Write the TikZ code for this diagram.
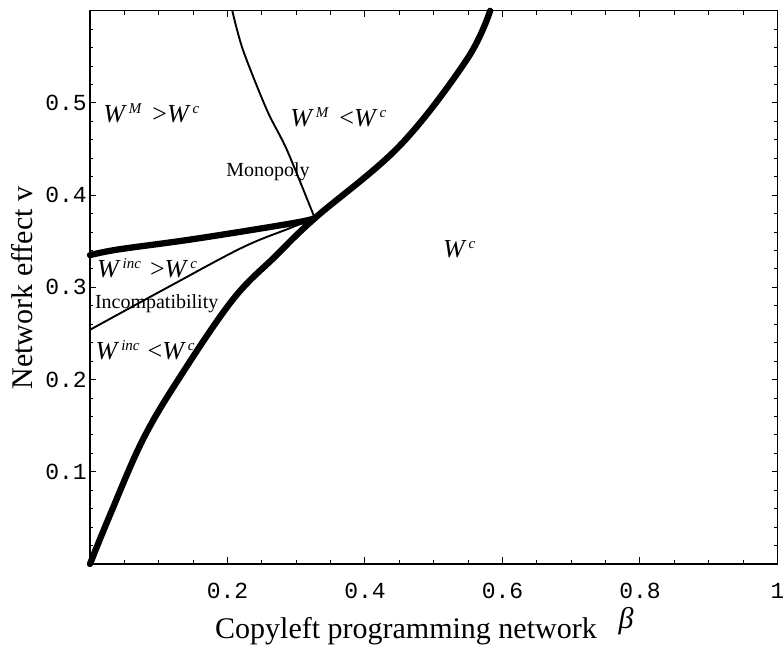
\documentclass[tikz,border=0pt]{standalone}
\usepackage{fontspec}
\setmainfont{Liberation Serif}
\setmonofont{Liberation Mono}
\newcommand{\Wsup}[1]{\textit{W}\kern2pt\raisebox{9pt}{\fontsize{15}{15}\selectfont\itshape #1}}
\begin{document}
\begin{tikzpicture}[x=687.5pt,y=922pt,
    boldcurve/.style={line width=6.3pt,line cap=round,line join=round},
    thincurve/.style={line width=1.9pt,line join=round},
    tickmark/.style={line width=1pt},
    ticklab/.style={font=\fontsize{23}{23}\selectfont\ttfamily,inner sep=0pt},
    regionlab/.style={font=\fontsize{26}{26}\selectfont,inner sep=0pt},
    namelab/.style={font=\fontsize{20}{20}\selectfont,inner sep=0pt},
    axislab/.style={font=\fontsize{30}{30}\selectfont,inner sep=0pt}]
	\useasboundingbox (-0.1309,-0.0911) rectangle (1.0080,0.6117);
	\draw[line width=1.4pt] (0,0) rectangle (1,0.6);
	\foreach \i in {1,...,19}
		\draw[tickmark] (\i/20,0) -- ++(0pt,4pt) (\i/20,0.6) -- ++(0pt,-4pt);
	\foreach \j in {1,...,29}
		\draw[tickmark] (0,\j/50) -- ++(3.5pt,0pt) (1,\j/50) -- ++(-3.5pt,0pt);
	\foreach \i in {2,4,6,8}
	  {\draw[tickmark] (\i/10,0) -- ++(0pt,6.5pt) (\i/10,0.6) -- ++(0pt,-6.5pt);
	   \node [ticklab,below=19pt] (x\i) at (\i/10,0) {0.\i};}
	\node [ticklab,below=19pt] (x10) at (1,0) {1};
	\foreach \j in {1,...,5}
	  {\draw[tickmark] (0,\j/10) -- ++(6pt,0pt) (1,\j/10) -- ++(-6pt,0pt);
	   \node [ticklab,left=3pt] (y\j) at (0,\j/10) {0.\j};}

	\coordinate (tp) at (0.327,0.375);
	\draw[boldcurve] plot[smooth,tension=0.6] coordinates {(0,0) (0.029,0.053) (0.077,0.135) (0.131,0.203)
		(0.208,0.287) (0.270,0.334) (tp) (0.451,0.454) (0.548,0.547) (0.582,0.6)};
	\draw[boldcurve] plot[smooth,tension=0.6] coordinates {(0,0.335) (0.04,0.341) (0.138,0.351)
		(0.233,0.362) (0.305,0.371) (tp)};
	\draw[thincurve] plot[smooth,tension=0.6] coordinates {(0,0.254) (0.113,0.300) (0.221,0.343)
		(0.290,0.364) (tp)};
	\draw[thincurve] plot[smooth,tension=0.5] coordinates {(0.207,0.6) (0.2225,0.5575) (0.2575,0.492)
		(0.2865,0.449) (tp)};

	\node [regionlab,anchor=west] (wmgt) at (0.019,0.489) {\Wsup{M}\hspace{11pt}>\Wsup{c}};
	\node [regionlab,anchor=west] (wmlt) at (0.291,0.484) {\Wsup{M}\hspace{11pt}<\Wsup{c}};
	\node [namelab] (mono) at (0.259,0.425) {Monopoly};
	\node [regionlab,anchor=west] (wigt) at (0.010,0.321) {\Wsup{inc}\hspace{9pt}>\Wsup{c}};
	\node [namelab,anchor=west] (incomp) at (0.007,0.282) {Incompatibility};
	\node [regionlab,anchor=west] (wilt) at (0.008,0.232) {\Wsup{inc}\hspace{8pt}<\Wsup{c}};
	\node [regionlab] (wc) at (0.537,0.341) {\Wsup{c}};

	\node [axislab,rotate=90] (ylab) at (-0.0989,0.2993) {Network effect v};
	\node [axislab,anchor=base] (xlab) at (0.4596,-0.0803) {Copyleft programming network};
	\node [font=\fontsize{30}{30}\selectfont\itshape,inner sep=0pt] (beta) at (0.7796,-0.062) {β};
\end{tikzpicture}
\end{document}
